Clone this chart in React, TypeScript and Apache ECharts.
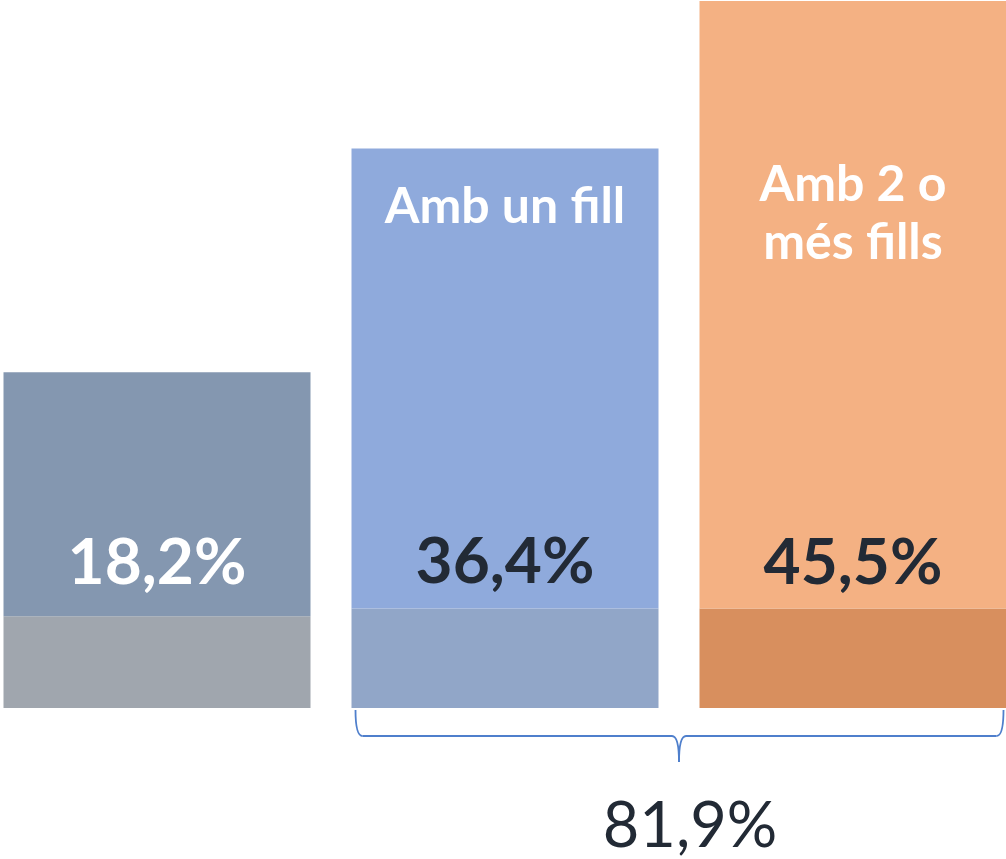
import React, { useEffect, useRef } from "react";
import * as echarts from "echarts";

// Categories (first bar carries no caption in the picture)
const categories = ["", "Amb un fill", "Amb 2 o\nmés fills"];
// Printed values
const valueLabels = ["18,2%", "36,4%", "45,5%"];
// Bar heights as drawn in the picture (same units as the printed values)
const baseHeights = [5.9, 6.4, 6.4];
const upperHeights = [15.7, 29.6, 39.1];
const totalLabel = "81,9%";

const upperColors = ["#8497B0", "#8FAADC", "#F4B183"];
const baseColors = ["#A0A6AE", "#91A6C8", "#D88F5E"];
const valueLabelColors = ["#FFFFFF", "#222A35", "#222A35"];
const valueLabelDistance = [22, 15, 14];
const captionDistance = [0, 26, 152];

const FONT = "Lato";
const BAR_W = 307;

export default function App() {
  const ref = useRef<HTMLDivElement>(null);
  useEffect(() => {
    if (!ref.current) return;
    const chart = echarts.init(ref.current, null, { renderer: "svg" });
    chart.setOption({
      animation: false,
      grid: { left: 0, right: 0, top: 1, bottom: 151, containLabel: false },
      xAxis: { type: "category", data: categories, show: false },
      yAxis: { type: "value", min: 0, max: 45.5, show: false },
      series: [
        {
          type: "bar",
          stack: "a",
          barWidth: BAR_W,
          data: baseHeights.map((v, i) => ({
            value: v,
            itemStyle: { color: baseColors[i] },
            label: {
              show: true,
              position: "top",
              distance: valueLabelDistance[i],
              formatter: valueLabels[i],
              color: valueLabelColors[i],
              fontFamily: FONT,
              fontWeight: "bold",
              fontSize: 64,
              lineHeight: 70,
            },
          })),
        },
        {
          type: "bar",
          stack: "a",
          barWidth: BAR_W,
          data: upperHeights.map((v, i) => ({
            value: v,
            itemStyle: { color: upperColors[i] },
            label: {
              show: categories[i] !== "",
              position: "insideTop",
              distance: captionDistance[i],
              formatter: categories[i],
              color: "#FFFFFF",
              fontFamily: FONT,
              fontWeight: "bold",
              fontSize: 50,
              lineHeight: 58,
              align: "center",
            },
          })),
        },
      ],
    });

    // Bracket spanning bars 2 and 3
    const c1 = chart.convertToPixel({ xAxisIndex: 0 }, 1) as number;
    const c2 = chart.convertToPixel({ xAxisIndex: 0 }, 2) as number;
    const y0 = chart.convertToPixel({ yAxisIndex: 0 }, 0) as number;
    const x1 = c1 - BAR_W / 2 + 4;
    const x2 = c2 + BAR_W / 2 - 3;
    const mid = (c1 - BAR_W / 2 + c2 + BAR_W / 2) / 2;
    const yTop = y0 + 2;
    const yMid = y0 + 28;
    const yTip = y0 + 54;
    const r = 7;
    const stroke = { stroke: "#4F7FCC", lineWidth: 1.8, fill: "none" };
    const curve = (sx: number, sy: number, cx: number, cy: number, ex: number, ey: number) => ({
      type: "bezierCurve",
      shape: { x1: sx, y1: sy, cpx1: cx, cpy1: cy, x2: ex, y2: ey },
      style: stroke,
      silent: true,
    });
    const line = (sx: number, sy: number, ex: number, ey: number) => ({
      type: "line",
      shape: { x1: sx, y1: sy, x2: ex, y2: ey },
      style: stroke,
      silent: true,
    });
    chart.setOption({
      graphic: [
        curve(x1, yTop, x1, yMid, x1 + r, yMid),
        line(x1 + r, yMid, mid - r, yMid),
        curve(mid - r, yMid, mid, yMid, mid, yTip),
        curve(mid, yTip, mid, yMid, mid + r, yMid),
        line(mid + r, yMid, x2 - r, yMid),
        curve(x2 - r, yMid, x2, yMid, x2, yTop),
        {
          type: "text",
          x: mid + 11,
          y: y0 + 114,
          style: {
            text: totalLabel,
            fontFamily: FONT,
            fontSize: 63,
            fill: "#222A35",
            align: "center",
            verticalAlign: "middle",
          },
          silent: true,
        },
      ],
    });
    return () => chart.dispose();
  }, []);
  return (
    <div
      ref={ref}
      style={{ position: "fixed", left: -17.5, top: 0, width: 1044, height: 859, background: "#FFFFFF" }}
    />
  );
}
